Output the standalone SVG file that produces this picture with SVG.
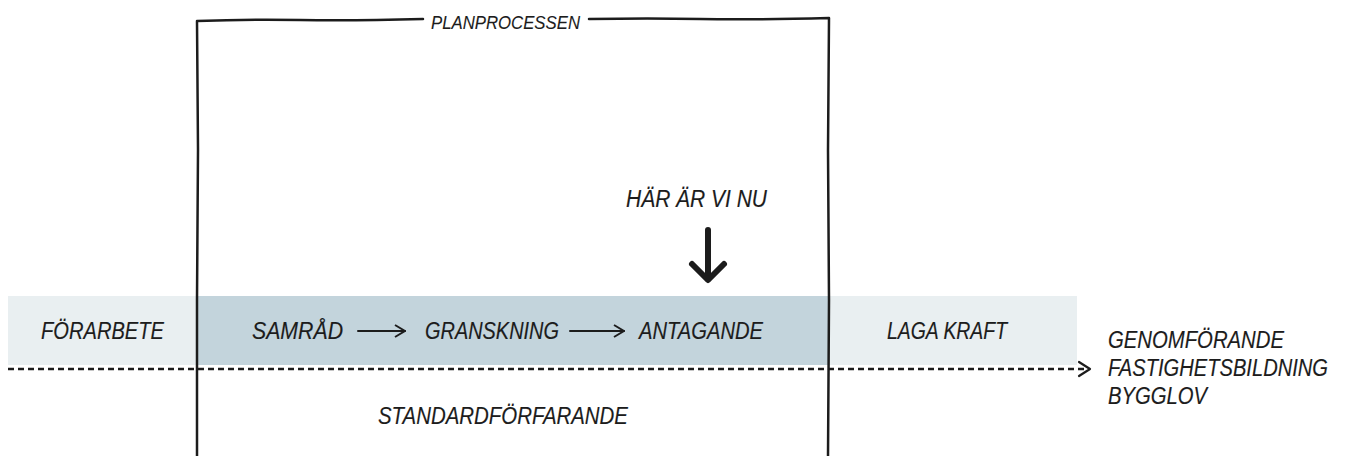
<svg xmlns="http://www.w3.org/2000/svg" width="1360" height="456" viewBox="0 0 1360 456">
<style>
.t{font-family:"Liberation Sans",Arial,sans-serif;font-style:italic;font-size:23px;fill:#1c1c1c;stroke:#1c1c1c;stroke-width:0.15px}
.s{font-size:18px;stroke-width:0.1px}
.ln{fill:none;stroke:#1c1c1c;stroke-linecap:round;stroke-linejoin:round}
</style>
<defs>
<marker id="open" viewBox="0 0 12 14" refX="11" refY="7" markerWidth="12" markerHeight="14" markerUnits="userSpaceOnUse" orient="auto">
<path d="M1 1 L11 7 L1 13" fill="none" stroke="#1c1c1c" stroke-width="2"/>
</marker>
</defs>
<g id="bands">
<rect x="8" y="296" width="189" height="69" fill="#e9eff1"/>
<rect x="197" y="296" width="632" height="69" fill="#c3d4dc"/>
<rect x="829" y="296" width="248" height="69" fill="#e9eff1"/>
</g>
<g id="planprocessen">
<path class="ln" stroke-width="2.5" d="M197 456 L197 300 L198 150 L197 21 Q250 19 300 20 T423 19"/>
<path class="ln" stroke-width="2.5" d="M589 19 Q650 18 700 19 T829 18 L828 150 L829 300 L828 456"/>
<text class="t s" x="431" y="28.5" textLength="149" lengthAdjust="spacingAndGlyphs">PLANPROCESSEN</text>
</g>
<g id="connectors">
<line x1="8" y1="369" x2="1086" y2="369" stroke="#1c1c1c" stroke-width="2.5" stroke-dasharray="6 4"/>
<path class="ln" stroke-width="2.2" d="M1079 362 L1090 369 L1079 376"/>
<line class="ln" x1="358" y1="331" x2="405" y2="331" stroke-width="2" marker-end="url(#open)"/>
<line class="ln" x1="570" y1="331" x2="624" y2="331" stroke-width="2" marker-end="url(#open)"/>
<path class="ln" stroke-width="6" d="M708 230 L708 279"/>
<path class="ln" stroke-width="6" d="M692 264 L708 280 L724 264"/>
</g>
<g id="forarbete"><text class="t" x="41" y="339" textLength="123" lengthAdjust="spacingAndGlyphs">FÖRARBETE</text></g>
<g id="samrad"><text class="t" x="252" y="339" textLength="91" lengthAdjust="spacingAndGlyphs">SAMRÅD</text></g>
<g id="granskning"><text class="t" x="425" y="339" textLength="134" lengthAdjust="spacingAndGlyphs">GRANSKNING</text></g>
<g id="antagande"><text class="t" x="639" y="339" textLength="124" lengthAdjust="spacingAndGlyphs">ANTAGANDE</text></g>
<g id="laga-kraft"><text class="t" x="887" y="339" textLength="120" lengthAdjust="spacingAndGlyphs">LAGA KRAFT</text></g>
<g id="har-ar-vi-nu"><text class="t" x="626" y="207" textLength="141" lengthAdjust="spacingAndGlyphs">HÄR ÄR VI NU</text></g>
<g id="genomforande">
<text class="t" x="1108" y="348" textLength="176" lengthAdjust="spacingAndGlyphs">GENOMFÖRANDE</text>
<text class="t" x="1108" y="376" textLength="220" lengthAdjust="spacingAndGlyphs">FASTIGHETSBILDNING</text>
<text class="t" x="1108" y="404" textLength="99" lengthAdjust="spacingAndGlyphs">BYGGLOV</text>
</g>
<g id="standardforfarande"><text class="t" x="378" y="424" textLength="250" lengthAdjust="spacingAndGlyphs">STANDARDFÖRFARANDE</text></g>
</svg>
